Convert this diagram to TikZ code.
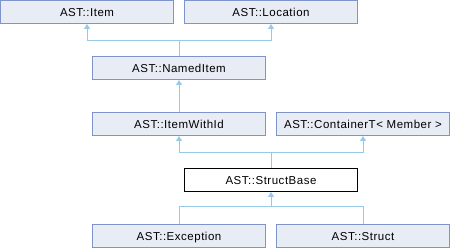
\documentclass[tikz,border=0pt]{standalone}
\usepackage{fontspec}
\setmainfont{Liberation Sans}[LetterSpace=4.5]
\usetikzlibrary{arrows.meta}
\definecolor{boxfill}{RGB}{232,236,244}
\definecolor{boxline}{RGB}{128,148,204}
\definecolor{edgecol}{RGB}{150,202,232}
\tikzset{
  cls/.style={draw=boxline, fill=boxfill, line width=1pt, minimum width=173pt,
    minimum height=23pt, inner sep=0pt, text height=8.2pt, text depth=0pt,
    font=\fontsize{11.5pt}{13pt}\selectfont},
  cur/.style={cls, draw=black, fill=white},
  edge/.style={draw=edgecol, line width=1pt},
  inh/.style={edge, -{Triangle[width=6pt,length=5pt]}},
}
\begin{document}
\begin{tikzpicture}[x=1pt,y=-1pt]
\useasboundingbox (0,0) rectangle (450,248);
% class boxes
\node[cls] (item)      at (87,12)   {AST::Item};
\node[cls] (location)  at (271,12)  {AST::Location};
\node[cls] (named)     at (179,68)  {AST::NamedItem};
\node[cls] (withid)    at (179,124) {AST::ItemWithId};
\node[cls] (container) at (363,124) {AST::ContainerT< Member >};
\node[cur] (base)      at (271,180) {AST::StructBase};
\node[cls] (exception) at (179,236) {AST::Exception};
\node[cls] (struct)    at (363,236) {AST::Struct};
% bus coordinates
\coordinate (b1) at (179,40.5);
\coordinate (b3) at (271,152.5);
\coordinate (b4) at (271,206.5);
% inheritance edges
\draw[edge] (named.north) -- (b1);
\draw[inh] (b1) -| (item.south);
\draw[inh] (b1) -| (location.south);
\draw[inh] (withid.north) -- (named.south);
\draw[edge] (base.north) -- (b3);
\draw[inh] (b3) -| (withid.south);
\draw[inh] (b3) -| (container.south);
\draw[edge] (exception.north) |- (b4);
\draw[edge] (struct.north) |- (b4);
\draw[inh] (b4) -- (base.south);
\end{tikzpicture}
\end{document}
